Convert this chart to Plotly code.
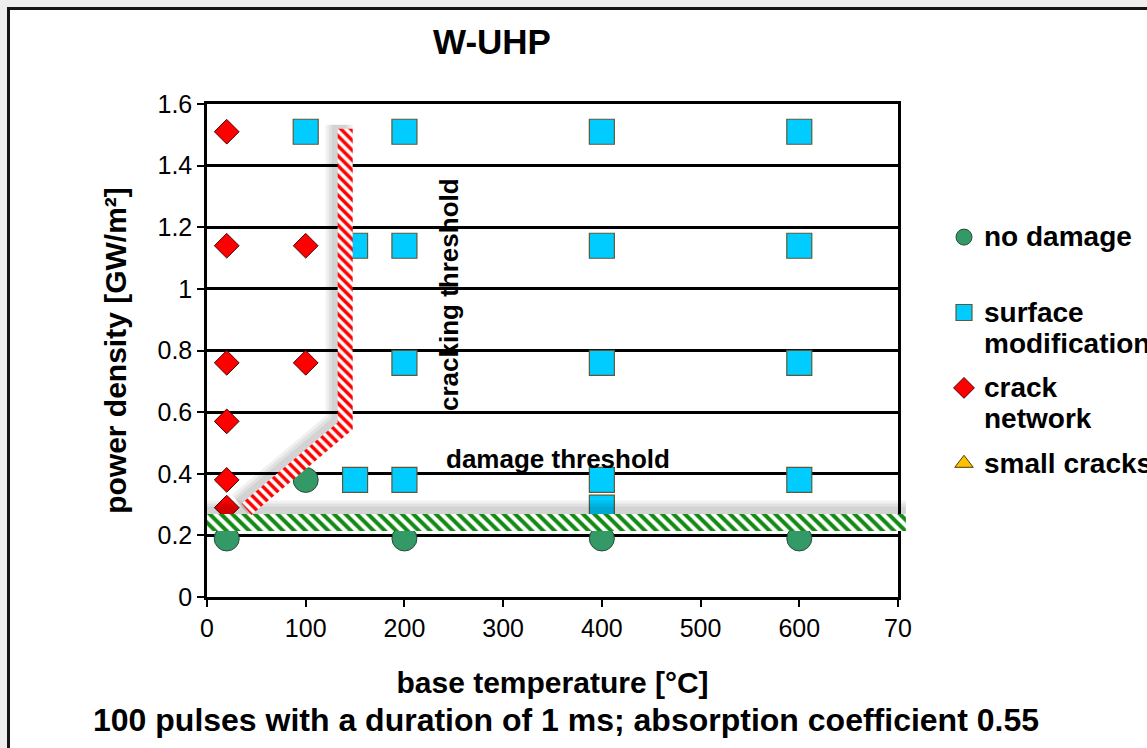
import numpy as np
import plotly.graph_objects as go

# ---------------- data ----------------
no_damage_x = [20, 100, 200, 400, 600]
no_damage_y = [0.19, 0.38, 0.19, 0.19, 0.19]

surface_x = [100, 200, 400, 600, 150, 200, 400, 600, 200, 400, 600, 150, 200, 400, 600, 400]
surface_y = [1.51, 1.51, 1.51, 1.51, 1.14, 1.14, 1.14, 1.14, 0.76, 0.76, 0.76, 0.38, 0.38, 0.38, 0.38, 0.29]

crack_x = [20, 20, 100, 20, 100, 20, 20, 20]
crack_y = [1.51, 1.14, 1.14, 0.76, 0.76, 0.57, 0.38, 0.29]

small_cracks_x = [None]
small_cracks_y = [None]

damage_threshold_x = [0, 708]
damage_threshold_y = [0.242, 0.242]
cracking_threshold_x = [40, 140, 140]
cracking_threshold_y = [0.285, 0.555, 1.52]

x_tickvals = [0, 100, 200, 300, 400, 500, 600, 700]
x_ticktext = ["0", "100", "200", "300", "400", "500", "600", "70"]
y_tickvals = [0, 0.2, 0.4, 0.6, 0.8, 1.0, 1.2, 1.4, 1.6]
y_ticktext = ["0", "0.2", "0.4", "0.6", "0.8", "1", "1.2", "1.4", "1.6"]

# ---------------- geometry ----------------
W, H = 1147, 748
ML, MT, MB = 207, 104, 151
PW = 699                      # plotting region incl. band overhang
MR = W - ML - PW
PH = H - MT - MB
X_AXIS_PX = 691               # pixel length of the 0..700 axis
XMAX, YMAX = 700, 1.6
kx = X_AXIS_PX / XMAX
ky = PH / YMAX

FONT = "Liberation Sans, Arial, Helvetica, sans-serif"
NARROW = "Liberation Sans Narrow, Arial Narrow, Liberation Sans, Arial, sans-serif"


def band_polygon(xs, ys, width_px, shift=(0.0, 0.0)):
    P = np.column_stack([np.asarray(xs, float) * kx + shift[0],
                         np.asarray(ys, float) * ky + shift[1]])
    n = len(P)
    segn = []
    for i in range(n - 1):
        d = P[i + 1] - P[i]
        d = d / np.hypot(*d)
        segn.append(np.array([-d[1], d[0]]))
    norms = []
    for i in range(n):
        if i == 0:
            norms.append(segn[0])
        elif i == n - 1:
            norms.append(segn[-1])
        else:
            m = segn[i - 1] + segn[i]
            m = m / np.hypot(*m)
            norms.append(m / np.dot(m, segn[i]))
    h = width_px / 2.0
    left = [P[i] + h * norms[i] for i in range(n)]
    right = [P[i] - h * norms[i] for i in range(n)][::-1]
    poly = np.array(left + right + [left[0]])
    return list(poly[:, 0] / kx), list(poly[:, 1] / ky)


def lg(*lines):
    return "<br>".join('<span style="font-size:28px"><b>%s</b></span>' % s for s in lines)


fig = go.Figure()

# ---------------- data traces ----------------
fig.add_trace(go.Scatter(
    x=no_damage_x, y=no_damage_y, mode="markers", legendgroup="a",
    name=lg("no damage") + "<br>\u00a0",
    marker=dict(symbol="circle", size=25, color="#339966",
                line=dict(color="#2a4a38", width=1))))
fig.add_trace(go.Scatter(
    x=surface_x, y=surface_y, mode="markers", legendgroup="b",
    name=lg("surface", "modification"),
    marker=dict(symbol="square", size=25, color="#00CCFF",
                line=dict(color="#5a5a3a", width=1.2))))
fig.add_trace(go.Scatter(
    x=crack_x, y=crack_y, mode="markers", legendgroup="c",
    name=lg("crack", "network"),
    marker=dict(symbol="diamond", size=19, color="#FF0000",
                line=dict(color="#4a0000", width=1))))
fig.add_trace(go.Scatter(
    x=small_cracks_x, y=small_cracks_y, mode="markers", legendgroup="d",
    name=lg("small cracks"),
    marker=dict(symbol="triangle-up", size=22, color="#FFC000",
                line=dict(color="#4a3a00", width=1))))

# ---------------- threshold bands (overlay subplot) ----------------
for w in (30, 24, 18):
    sx, sy = band_polygon(damage_threshold_x, damage_threshold_y, w, shift=(0, 7))
    fig.add_trace(go.Scatter(x=sx, y=sy, xaxis="x2", yaxis="y2", mode="lines",
                             fill="toself", fillcolor="rgba(0,0,0,0.06)",
                             line=dict(width=0), showlegend=False, hoverinfo="skip"))
for w in (27, 21, 15):
    sx, sy = band_polygon(cracking_threshold_x, cracking_threshold_y, w, shift=(-6, 4))
    fig.add_trace(go.Scatter(x=sx, y=sy, xaxis="x2", yaxis="y2", mode="lines",
                             fill="toself", fillcolor="rgba(0,0,0,0.06)",
                             line=dict(width=0), showlegend=False, hoverinfo="skip"))

gx, gy = band_polygon(damage_threshold_x, damage_threshold_y, 17)
fig.add_trace(go.Scatter(
    x=gx, y=gy, xaxis="x2", yaxis="y2", mode="lines", fill="toself",
    fillcolor="white", line=dict(width=0), showlegend=False, hoverinfo="skip",
    fillpattern=dict(shape="\\", fgcolor="#138a13", bgcolor="white",
                     fgopacity=1, size=8, solidity=0.5)))
rx, ry = band_polygon(cracking_threshold_x, cracking_threshold_y, 15)
fig.add_trace(go.Scatter(
    x=rx, y=ry, xaxis="x2", yaxis="y2", mode="lines", fill="toself",
    fillcolor="white", line=dict(width=0), showlegend=False, hoverinfo="skip",
    fillpattern=dict(shape="\\", fgcolor="#ff0000", bgcolor="white",
                     fgopacity=1, size=7, solidity=0.5)))


def px2paper_x(px):
    return (px - ML) / PW


def px2paper_y(py):
    return (H - MB - py) / PH


tickfont = dict(family=NARROW, size=25, color="black")
titlefont = dict(family=FONT, size=30, color="black", weight="bold")

fig.update_layout(
    width=W, height=H,
    margin=dict(l=ML, r=MR, t=MT, b=MB, autoexpand=False),
    paper_bgcolor="#eeeeee", plot_bgcolor="rgba(0,0,0,0)",
    font=dict(family=FONT, color="black"),
    title=dict(text="W-UHP", x=492 / W, xanchor="center", y=1 - 42 / H,
               yanchor="middle", xref="container", yref="container",
               font=dict(family=FONT, size=35, color="black", weight="bold")),
    xaxis=dict(domain=[0, X_AXIS_PX / PW], range=[0, XMAX], tickvals=x_tickvals,
               ticktext=x_ticktext, ticks="outside", ticklen=7, tickwidth=2,
               tickcolor="black", showline=True, linewidth=2.5, linecolor="black",
               mirror=True, showgrid=False, zeroline=False, tickfont=tickfont,
               title=dict(text="base temperature [°C]", font=titlefont, standoff=32)),
    yaxis=dict(domain=[0, 1], range=[0, YMAX], tickvals=y_tickvals,
               ticktext=y_ticktext, ticks="outside", ticklen=7, tickwidth=2,
               tickcolor="black", showline=True, linewidth=2.5, linecolor="black",
               mirror=True, showgrid=True, gridcolor="black", gridwidth=2.5,
               zeroline=False, tickfont=tickfont,
               title=dict(text="power density [GW/m²]", font=titlefont, standoff=22)),
    xaxis2=dict(domain=[0, 1], range=[0, XMAX * PW / X_AXIS_PX], anchor="y2",
                visible=False, fixedrange=True),
    yaxis2=dict(domain=[0, 1], range=[0, YMAX], anchor="x2", visible=False,
                fixedrange=True),
    legend=dict(x=px2paper_x(944), xanchor="left", y=px2paper_y(215), yanchor="top",
                font=dict(family=FONT, size=24, color="black"), valign="top",
                traceorder="grouped", tracegroupgap=10, bgcolor="rgba(0,0,0,0)"),
    shapes=[dict(type="rect", xref="paper", yref="paper", layer="below",
                 x0=px2paper_x(8.5), x1=px2paper_x(1200),
                 y0=px2paper_y(800), y1=px2paper_y(8.5),
                 line=dict(color="#151515", width=3), fillcolor="white")],
    annotations=[
        dict(text="cracking threshold", x=245, y=0.983, xref="x", yref="y",
             textangle=-90, showarrow=False,
             font=dict(family=FONT, size=26, color="black", weight="bold")),
        dict(text="damage threshold", x=355.6, y=0.448, xref="x", yref="y",
             showarrow=False,
             font=dict(family=FONT, size=26, color="black", weight="bold")),
        dict(text="100 pulses with a duration of 1 ms; absorption coefficient 0.55",
             x=px2paper_x(566), y=px2paper_y(720), xref="paper", yref="paper",
             xanchor="center", yanchor="middle", showarrow=False,
             font=dict(family=FONT, size=32, color="black", weight="bold")),
    ],
)

fig.write_html("out.html")
